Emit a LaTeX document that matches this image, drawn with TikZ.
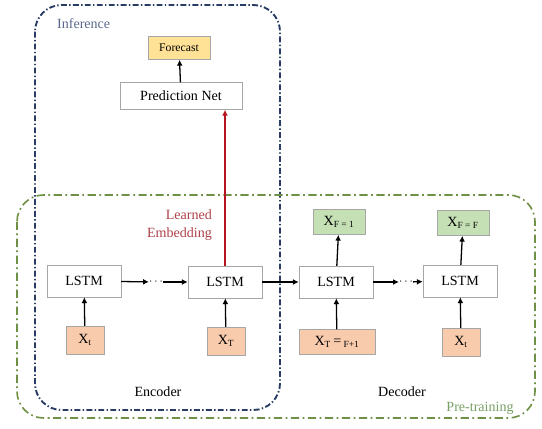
\documentclass[tikz,border=0pt]{standalone}
\usepackage{fontspec}
\setmainfont{Liberation Serif}
\usetikzlibrary{arrows.meta}
\definecolor{infblue}{RGB}{40,60,100}
\definecolor{inftext}{RGB}{90,105,140}
\definecolor{pregreen}{RGB}{110,145,70}
\definecolor{pretext}{RGB}{120,160,100}
\definecolor{embred}{RGB}{180,20,30}
\definecolor{embtext}{RGB}{175,65,75}
\definecolor{inxfill}{RGB}{248,203,173}
\definecolor{outxfill}{RGB}{197,224,180}
\definecolor{fcfill}{RGB}{255,226,150}
\tikzset{
	cell/.style={draw=gray!70, fill=white, minimum width=2.22cm, minimum height=0.96cm, inner sep=0pt, font=\fontsize{12}{14}\selectfont},
	inbox/.style={draw=gray!70, fill=inxfill, minimum width=1.14cm, minimum height=0.84cm, inner sep=0pt, font=\fontsize{12}{14}\selectfont},
	outbox/.style={draw=gray!70, fill=outxfill, minimum width=1.56cm, minimum height=0.75cm, inner sep=0pt, font=\fontsize{12}{14}\selectfont},
	flow/.style={-{Latex[length=5pt,width=5pt]}, line width=1.1pt},
	plain/.style={line width=1.1pt},
}

\begin{document}
\begin{tikzpicture}[x=0.03cm, y=-0.03cm]
			%%%%% START %%%%%
			\useasboundingbox (0, 0) rectangle (542, 429);
			
			\draw[infblue, line width=1.6pt, rounded corners=0.8cm, dash pattern=on 5pt off 2pt on 1.2pt off 2pt] (35, 5) rectangle (280, 410);
			\draw[pregreen, line width=1.4pt, rounded corners=0.8cm, dash pattern=on 7pt off 3pt on 1.5pt off 3pt] (17, 195) rectangle (535, 418);
			
			\node[anchor=west, text=inftext, font=\fontsize{12}{14}\selectfont] (inf) at (53, 24) {Inference};
			\node[text=pretext, font=\fontsize{12}{14}\selectfont] (pre) at (480, 408) {Pre-training};
			\node[font=\fontsize{12}{14}\selectfont] (enc) at (158, 392) {Encoder};
			\node[font=\fontsize{12}{14}\selectfont] (dec) at (402, 392) {Decoder};
			
			\node[draw=gray!70, fill=fcfill, minimum width=1.86cm, minimum height=0.69cm, inner sep=0pt, font=\fontsize{10}{12}\selectfont] (fc) at (179, 48) {Forecast};
			\node[cell, minimum width=3.66cm, minimum height=0.81cm] (pn) at (181, 96) {Prediction Net};
			
			\node[cell] (l1) at (84, 281) {LSTM};
			\node[cell] (l2) at (225, 282) {LSTM};
			\node[cell] (l3) at (336, 282) {LSTM};
			\node[cell] (l4) at (460, 281) {LSTM};
			
			\node[inbox] (x1) at (85, 340) {X\textsubscript{t}};
			\node[inbox] (x2) at (226, 341) {X\textsubscript{T}};
			\node[inbox, minimum width=2.28cm, minimum height=0.75cm] (x3) at (337, 342) {X\textsubscript{T}\,=\,\textsubscript{F+1}};
			\node[inbox] (x4) at (461, 342) {X\textsubscript{t}};
			
			\node[outbox] (y3) at (339, 222) {X\textsubscript{F = 1}};
			\node[outbox] (y4) at (463, 223) {X\textsubscript{F = F}};
			
			\node[inner sep=0pt] (d1) at (156, 282) {$\cdots$};
			\node[inner sep=0pt] (d2) at (406, 282) {$\cdots$};
			
			\node[anchor=east, align=right, text=embtext, font=\fontsize{12}{15}\selectfont] (emb) at (216, 225) {Learned\\Embedding};
			
			\draw[flow] (pn) -- (fc);
			\draw[flow, embred] (l2.north) -- (l2.north |- pn.south);
			
			\draw[flow] (x1) -- (l1);
			\draw[flow] (x2) -- (l2);
			\draw[flow] (x3) -- (l3);
			\draw[flow] (x4) -- (l4);
			\draw[flow] (l3) -- (y3);
			\draw[flow] (l4) -- (y4);
			
			\draw[flow] (l1) -- (d1);
			\draw[flow] (d1) -- (l2);
			\draw[flow] (l2) -- (l3);
			\draw[flow] (l3) -- (d2);
			\draw[flow] (d2) -- (l4);
			%%%%% END %%%%%
		\end{tikzpicture}
\end{document}
